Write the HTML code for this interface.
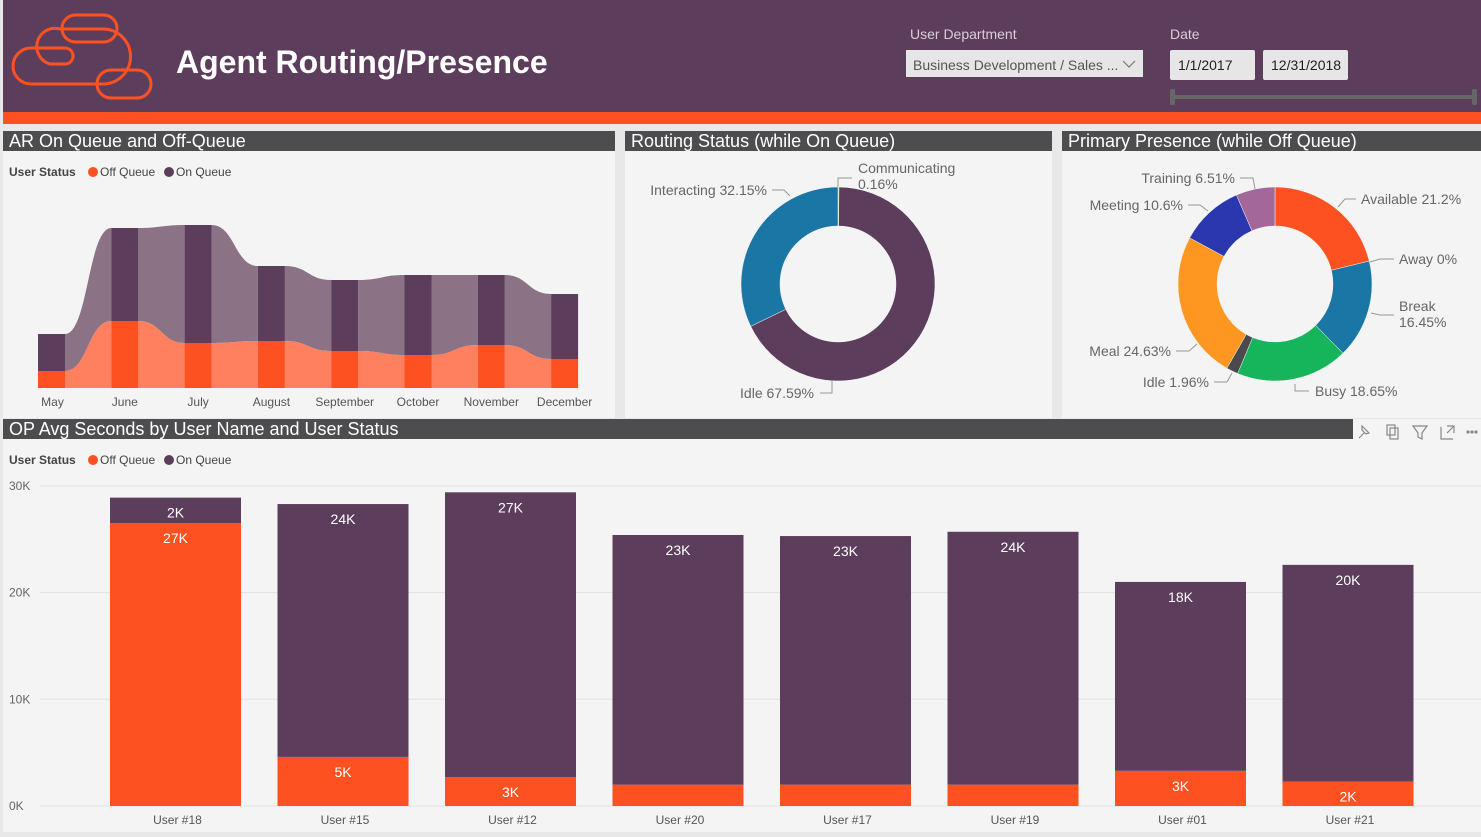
<!DOCTYPE html>
<html><head><meta charset="utf-8"><style>
body{margin:0;width:1481px;height:832px;overflow:hidden;background:#e8e8e8;font-family:"Liberation Sans",Arial,sans-serif}
svg text{font-family:"Liberation Sans",Arial,sans-serif}
</style></head><body>
<svg id="s" width="1481" height="832" xmlns="http://www.w3.org/2000/svg">
<rect x="0" y="0" width="1481" height="832" fill="#e8e8e8"/>
<g>
<rect x="3" y="0" width="1478" height="112" fill="#5d3d5c"/>
<rect x="3" y="112" width="1478" height="12" fill="#fe5121"/>
<g fill="none" stroke="#fe5121" stroke-width="3">
<rect x="62" y="15" width="55" height="27" rx="13.5"/>
<path d="M60 29 H103 A27.5 27.5 0 0 1 103 84 H31 A18 18 0 0 1 31 48 H65 A8 8 0 0 1 65 64 H50 A17 17 0 0 1 60 29Z"/>
<rect x="97" y="70" width="54" height="28" rx="14"/>
</g>
<text x="176" y="73" fill="#fff" font-size="32" font-weight="bold">Agent Routing/Presence</text>
<text x="910" y="39" fill="#d8cdd8" font-size="14">User Department</text>
<g>
<rect x="906" y="50" width="237" height="27" fill="#e6e6e6"/>
<text x="913" y="70" fill="#555" font-size="14">Business Development / Sales ...</text>
<path d="M1123 61 l6 6 l6 -6" fill="none" stroke="#777" stroke-width="1.2"/>
</g>
<text x="1170" y="39" fill="#d8cdd8" font-size="14">Date</text>
<g><rect x="1170" y="50" width="85" height="30" fill="#e6e6e6" rx="2"/><text x="1178" y="70" font-size="14" fill="#222">1/1/2017</text></g>
<g><rect x="1263" y="50" width="85" height="30" fill="#e6e6e6" rx="2"/><text x="1271" y="70" font-size="14" fill="#222">12/31/2018</text></g>
<g><rect x="1172" y="95" width="304" height="4" fill="#666"/><rect x="1170" y="89" width="5" height="16" fill="#666" rx="2"/><rect x="1472" y="89" width="5" height="16" fill="#666" rx="2"/></g>
</g>
<rect x="3" y="131" width="612" height="287" fill="#f4f4f4"/>
<rect x="625" y="131" width="427" height="287" fill="#f4f4f4"/>
<rect x="1062" y="131" width="419" height="287" fill="#f4f4f4"/>
<rect x="3" y="419" width="1478" height="413" fill="#f4f4f4"/>
<g font-size="18" fill="#fff">
<rect x="3" y="131" width="612" height="20" fill="#4d4d50"/><text x="9" y="147">AR On Queue and Off-Queue</text>
<rect x="625" y="131" width="427" height="20" fill="#4d4d50"/><text x="631" y="147">Routing Status (while On Queue)</text>
<rect x="1062" y="131" width="419" height="20" fill="#4d4d50"/><text x="1068" y="147">Primary Presence (while Off Queue)</text>
<rect x="3" y="419" width="1350" height="20" fill="#4d4d50"/><text x="9" y="435">OP Avg Seconds by User Name and User Status</text>
</g>
<g fill="none" stroke="#888" stroke-width="1.2">
<g><path d="M1359 438 l5 -5 M1362 426 l7 7 l-3 1 l-4 -4z"/></g>
<g><rect x="1387" y="425" width="8" height="10"/><rect x="1390" y="428" width="8" height="11"/></g>
<g><path d="M1413 426 h14 l-5 7 v6 l-4 -2 v-4z"/></g>
<g><path d="M1441 427 h-0 v12 h12 M1447 426 h7 v7 M1454 426 l-7 7"/></g>
<g fill="#888"><circle cx="1468" cy="432" r="1"/><circle cx="1472" cy="432" r="1"/><circle cx="1476" cy="432" r="1"/></g>
</g>
<g font-size="12" fill="#444">
<text x="9" y="176" font-weight="bold">User Status</text>
<circle cx="93" cy="172" r="5" fill="#fe5121"/><text x="100" y="176">Off Queue</text>
<circle cx="169" cy="172" r="5" fill="#5d3d5c"/><text x="176" y="176">On Queue</text>
</g>
<g font-size="12" fill="#444">
<text x="9" y="464" font-weight="bold">User Status</text>
<circle cx="93" cy="460" r="5" fill="#fe5121"/><text x="100" y="464">Off Queue</text>
<circle cx="169" cy="460" r="5" fill="#5d3d5c"/><text x="176" y="464">On Queue</text>
</g>
<g id="ribbon"></g>
<g id="donut1"></g>
<g id="donut2"></g>
<g id="bars"></g>
</svg>
<script>
const NS="http://www.w3.org/2000/svg";
const months=["May","June","July","August","September","October","November","December"];
const offQueue=[17,67,45,47,37,33,43,29];
const onQueue=[37,93,118,75,71,80,70,65];
const routingLabels=["Communicating","Idle","Interacting"];
const routingValues=[0.16,67.59,32.15];
const presenceLabels=["Available","Away","Break","Busy","Idle","Meal","Meeting","Training"];
const presenceValues=[21.2,0,16.45,18.65,1.96,24.63,10.6,6.51];
const users=["User #18","User #15","User #12","User #20","User #17","User #19","User #01","User #21"];
const barOff=[26.5,4.6,2.7,2.0,2.0,2.0,3.3,2.3];
const barOn=[2.4,23.7,26.7,23.4,23.3,23.7,17.7,20.3];
const yTicks=[0,10,20,30];

function mk(tag,attrs,parent,txt){const e=document.createElementNS(NS,tag);for(const k in attrs)e.setAttribute(k,attrs[k]);if(txt!==undefined)e.textContent=txt;parent.appendChild(e);return e;}

(function(){
 const g=document.getElementById('ribbon');
 const base=388, x0=38, step=73.3, bw=27, sc=1;
 const X=i=>x0+i*step, Y=v=>base-v*sc;
 function band(i,y1a,y1b,y2a,y2b,fill){
  const xa=X(i)+bw, xb=X(i+1), m=(xa+xb)/2;
  const d=`M${xa} ${y1a} C${m} ${y1a} ${m} ${y2a} ${xb} ${y2a} L${xb} ${y2b} C${m} ${y2b} ${m} ${y1b} ${xa} ${y1b}Z`;
  const p=mk('path',{d:d,fill:fill},g);
  
  
 }
 for(let i=0;i<months.length-1;i++){
  band(i,Y(offQueue[i]+onQueue[i]),Y(offQueue[i]),Y(offQueue[i+1]+onQueue[i+1]),Y(offQueue[i+1]),'#8b7385');
  band(i,Y(offQueue[i]),base,Y(offQueue[i+1]),base,'#fe805e');
 }
 months.forEach((m,i)=>{
  const r1=mk('rect',{x:X(i),y:Y(offQueue[i]),width:bw,height:offQueue[i]*sc,fill:'#fe5121'},g);
  
  
  const r2=mk('rect',{x:X(i),y:Y(offQueue[i]+onQueue[i]),width:bw,height:onQueue[i]*sc,fill:'#5d3d5c'},g);
  
  
  const t=mk('text',{x:X(i)+bw/2+(i==0?1:0),y:406,'text-anchor':'middle','font-size':12,fill:'#555'},g,m);
  
  
 });
})();

function donut(id,cx,cy,R,r,labels,vals,colors,labelPos){
 const g=document.getElementById(id);
 const tot=vals.reduce((a,b)=>a+b,0);
 let a=0;
 vals.forEach((v,i)=>{
  const a0=a/tot*2*Math.PI, a1=(a+v)/tot*2*Math.PI; a+=v;
  if(v<=0) return;
  const P=(rad,an)=>[cx+rad*Math.sin(an),cy-rad*Math.cos(an)];
  const [x1,y1]=P(R,a0),[x2,y2]=P(R,a1),[x3,y3]=P(r,a1),[x4,y4]=P(r,a0);
  const lg=(a1-a0)>Math.PI?1:0;
  const p=mk('path',{d:`M${x1} ${y1} A${R} ${R} 0 ${lg} 1 ${x2} ${y2} L${x3} ${y3} A${r} ${r} 0 ${lg} 0 ${x4} ${y4}Z`,fill:colors[i],stroke:'#f4f4f4','stroke-width':0.5},g);
  
  
 });
 labelPos.forEach(lp=>{
  const l=mk('polyline',{points:lp.line,fill:'none',stroke:'#999','stroke-width':1},g);
  
  
  lp.text.forEach((tx,j)=>{
   const t=mk('text',{x:lp.x,y:lp.y+j*16,'font-size':14,fill:'#666','text-anchor':lp.anchor||'start'},g,tx);
   
   
  });
 });
}
const pct=(L,V,i)=>L[i]+' '+V[i]+'%';
donut('donut1',838,284,97,58,routingLabels,routingValues,['#c8c02a','#5d3d5c','#1a77a5'],[
 {x:858,y:173,text:['Communicating',routingValues[0]+'%'],line:'838,187 838,178 852,178'},
 {x:767,y:195,anchor:'end',text:[pct(routingLabels,routingValues,2)],line:'772,190 784,190 790,196'},
 {x:814,y:398,anchor:'end',text:[pct(routingLabels,routingValues,1)],line:'820,393 832,393 832,380'}
]);
donut('donut2',1275,284,97,58,presenceLabels,presenceValues,['#fe5121','#888','#1a77a5','#17b55b','#4a4a4e','#fe9721','#2a37ae','#a4679a'],[
 {x:1361,y:204,text:[pct(presenceLabels,presenceValues,0)],line:'1338,207 1345,199 1356,199'},
 {x:1399,y:264,text:[pct(presenceLabels,presenceValues,1)],line:'1370,262 1380,259 1394,259'},
 {x:1399,y:311,text:['Break',presenceValues[2]+'%'],line:'1371,313 1380,315 1394,315'},
 {x:1315,y:396,text:[pct(presenceLabels,presenceValues,3)],line:'1295,384 1295,391 1309,391'},
 {x:1209,y:387,anchor:'end',text:[pct(presenceLabels,presenceValues,4)],line:'1214,382 1227,382 1232,373'},
 {x:1171,y:356,anchor:'end',text:[pct(presenceLabels,presenceValues,5)],line:'1176,351 1189,351 1197,344'},
 {x:1183,y:210,anchor:'end',text:[pct(presenceLabels,presenceValues,6)],line:'1188,205 1200,205 1208,211'},
 {x:1235,y:183,anchor:'end',text:[pct(presenceLabels,presenceValues,7)],line:'1240,178 1253,178 1255,189'}
]);

(function(){
 const g=document.getElementById('bars');
 const base=806, pxk=10.67, x0=110, step=167.5, bw=131;
 const Y=v=>base-v*pxk, X=i=>x0+i*step;
 yTicks.forEach(t=>{
  const l=mk('line',{x1:40,x2:1481,y1:Y(t),y2:Y(t),stroke:'#e2e2e2','stroke-width':1},g);
  
  
  const tx=mk('text',{x:9,y:Y(t)+4,'font-size':12,fill:'#666'},g,t+'K');
  
  
 });
 users.forEach((u,i)=>{
  const r1=mk('rect',{x:X(i),y:Y(barOff[i]),width:bw,height:barOff[i]*pxk,fill:'#fe5121'},g);
  
  
  const r2=mk('rect',{x:X(i),y:Y(barOff[i]+barOn[i]),width:bw,height:barOn[i]*pxk,fill:'#5d3d5c'},g);
  
  
  if(barOff[i]*pxk>22){
   const t=mk('text',{x:X(i)+bw/2,y:Y(barOff[i])+20,'text-anchor':'middle','font-size':14,fill:'#fff'},g,Math.round(barOff[i])+'K');
   
   
  }
  const t2=mk('text',{x:X(i)+bw/2,y:Y(barOff[i]+barOn[i])+20,'text-anchor':'middle','font-size':14,fill:'#fff'},g,Math.round(barOn[i])+'K');
  
  
  const t3=mk('text',{x:X(i)+bw/2+2,y:824,'text-anchor':'middle','font-size':12,fill:'#555'},g,u);
  
  
 });
})();
</script>
</body></html>
